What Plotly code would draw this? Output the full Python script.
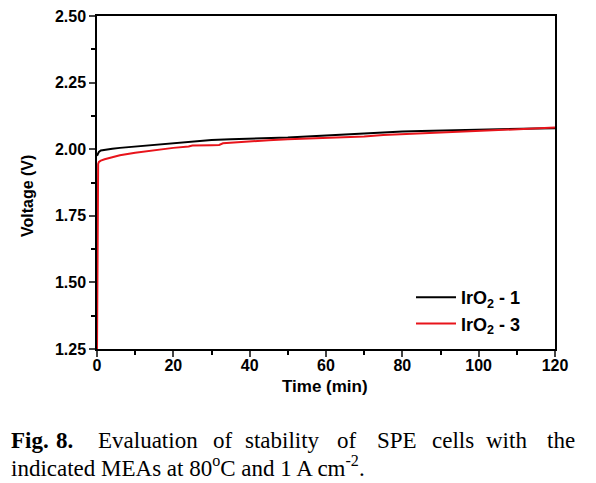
import plotly.graph_objects as go

t_black = [0, 0.2, 0.5, 1, 2, 4, 6, 10, 15, 20, 25, 30, 35, 40, 45, 50, 55, 60, 65, 70, 75, 80, 85, 90, 95, 100, 105, 110, 115, 120]
v_black = [1.975, 1.985, 1.99, 1.995, 1.998, 2.002, 2.005, 2.01, 2.018, 2.025, 2.03, 2.035, 2.037, 2.039, 2.041, 2.044, 2.048, 2.052, 2.056, 2.06, 2.063, 2.066, 2.068, 2.07, 2.072, 2.074, 2.076, 2.077, 2.078, 2.079]

t_red = [0, 0.1, 0.2, 0.3, 0.5, 1, 2, 4, 6, 10, 15, 20, 24, 25, 30, 32, 33, 40, 45, 50, 55, 60, 65, 70, 75, 80, 85, 90, 95, 100, 105, 110, 115, 120]
v_red = [1.25, 1.6, 1.9, 1.945, 1.952, 1.957, 1.962, 1.97, 1.977, 1.987, 1.997, 2.005, 2.01, 2.014, 2.015, 2.016, 2.022, 2.03, 2.034, 2.037, 2.04, 2.042, 2.044, 2.048, 2.053, 2.056, 2.059, 2.062, 2.066, 2.069, 2.072, 2.075, 2.078, 2.081]

x_ticks = [0, 20, 40, 60, 80, 100, 120]
y_ticks = [1.25, 1.50, 1.75, 2.00, 2.25, 2.50]
y_tick_labels = ["1.25", "1.50", "1.75", "2.00", "2.25", "2.50"]
series_names = ["IrO<sub>2</sub> - 1", "IrO<sub>2</sub> - 3"]

# page body has an 8px margin; figure sized to fit the window
OFF = 8
W, H = 596 - OFF, 483 - OFF
ML, MR, MT, MB = 97 - OFF, 41, 16 - OFF, 134
PW, PH = W - ML - MR, H - MT - MB


def px(sx):
    return (sx - OFF - ML) / PW


def py(sy):
    return ((H - MB) - (sy - OFF)) / PH


fig = go.Figure()
fig.add_trace(go.Scatter(x=t_black, y=v_black, mode="lines", name="<b>%s</b>" % series_names[0],
                         line=dict(color="black", width=2)))
fig.add_trace(go.Scatter(x=t_red, y=v_red, mode="lines", name="<b>%s</b>" % series_names[1],
                         line=dict(color="#e8141b", width=2)))

axfont = dict(family="Liberation Sans, Arial", size=16, color="black")
fig.update_xaxes(range=[0, 120], tickvals=x_ticks, ticktext=["<b>%d</b>" % v for v in x_ticks],
                 ticks="outside", ticklen=6, tickwidth=1.5, ticklabelstandoff=-5,
                 showline=True, linecolor="black", linewidth=1.5, mirror=True, showgrid=False,
                 zeroline=False, tickfont=axfont, ticklabeloverflow="allow",
                 minor=dict(dtick=10, ticks="outside", ticklen=4, tickwidth=1.5, tickcolor="black"))
fig.update_yaxes(range=[1.25, 2.5], tickvals=y_ticks, ticktext=["<b>%s</b>" % s for s in y_tick_labels],
                 ticks="outside", ticklen=6, tickwidth=1.5,
                 showline=True, linecolor="black", linewidth=1.5, mirror=True, showgrid=False,
                 zeroline=False, tickfont=axfont, ticklabeloverflow="allow",
                 minor=dict(dtick=0.125, ticks="outside", ticklen=4, tickwidth=1.5, tickcolor="black"))

fig.update_layout(
    width=W, height=H,
    margin=dict(l=ML, r=MR, t=MT, b=MB, autoexpand=False),
    paper_bgcolor="white", plot_bgcolor="white",
    legend=dict(x=px(411), y=py(279), xanchor="left", yanchor="top", bgcolor="rgba(0,0,0,0)",
                font=dict(family="Liberation Sans, Arial", size=18, color="black"),
                tracegroupgap=0, itemwidth=40),
)

# axis titles
fig.add_annotation(text="<b>Time (min)</b>", xref="paper", yref="paper", x=px(325), y=py(386),
                   xanchor="center", yanchor="middle", showarrow=False,
                   font=dict(family="Liberation Sans, Arial", size=17, color="black"))
fig.add_annotation(text="<b>Voltage (V)</b>", xref="paper", yref="paper", x=px(27), y=py(196),
                   xanchor="center", yanchor="middle", showarrow=False, textangle=-90,
                   font=dict(family="Liberation Sans, Arial", size=16, color="black"))

serif = dict(family="Liberation Serif, Times New Roman", size=23, color="black")
line1 = [("<b>Fig.</b>", 11), ("<b>8.</b>", 56), ("Evaluation", 98), ("of", 213), ("stability", 245),
         ("of", 337), ("SPE", 377), ("cells", 432), ("with", 486), ("the", 547)]
for txt, sx in line1:
    fig.add_annotation(text=txt, xref="paper", yref="paper", x=px(sx), y=py(440),
                       xanchor="left", yanchor="middle", showarrow=False, font=serif,
                       xshift=-2)
fig.add_annotation(text="indicated MEAs at 80<sup>o</sup>C and 1 A cm<sup>-2</sup>.", xref="paper", yref="paper",
                   x=px(11), y=py(466), xanchor="left", yanchor="middle", showarrow=False, font=serif,
                   xshift=-2)

fig.write_html("out.html")
